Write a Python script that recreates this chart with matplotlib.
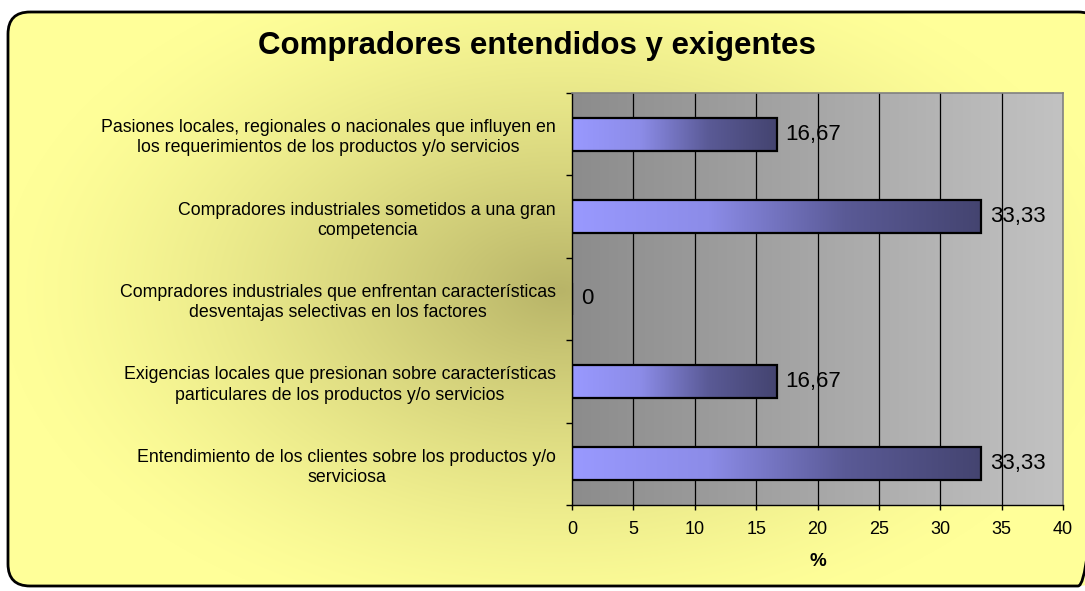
import numpy as np
import matplotlib
matplotlib.use("Agg")
import matplotlib.pyplot as plt
from matplotlib.colors import LinearSegmentedColormap
from matplotlib.patches import FancyBboxPatch
from matplotlib.ticker import FixedLocator

plt.rcParams["font.family"] = ["Liberation Sans", "DejaVu Sans"]

# --- data (top to bottom as shown) ---
categories = [
    "Pasiones locales, regionales o nacionales que influyen en\nlos requerimientos de los productos y/o servicios",
    "Compradores industriales sometidos a una gran\ncompetencia",
    "Compradores industriales que enfrentan características\ndesventajas selectivas en los factores",
    "Exigencias locales que presionan sobre características\nparticulares de los productos y/o servicios",
    "Entendimiento de los clientes sobre los productos y/o\nserviciosa",
]
values = [16.67, 33.33, 0, 16.67, 33.33]
x_ticks = [0, 5, 10, 15, 20, 25, 30, 35, 40]
title = "Compradores entendidos y exigentes"
x_label = "%"

W, H = 1085, 591
fig = plt.figure(figsize=(W / 100, H / 100), dpi=100)
fig.patch.set_facecolor("white")

# --- background: rounded yellow panel with a soft olive glow ---
bg = fig.add_axes([0, 0, 1, 1])
bg.set_xlim(0, W)
bg.set_ylim(H, 0)
bg.axis("off")
yy, xx = np.mgrid[0:H, 0:W]
r = np.sqrt(((xx - 560) / 560.0) ** 2 + ((yy - 290) / 350.0) ** 2)
f = np.clip(1 - r, 0, 1) ** 1.4
yellow = np.array([255, 255, 153]) / 255
olive = np.array([184, 180, 104]) / 255
img = yellow[None, None, :] * (1 - f[..., None]) + olive[None, None, :] * f[..., None]
panel = FancyBboxPatch((8, 12), 1092, 574, boxstyle="round,pad=0,rounding_size=22",
                       facecolor="none", edgecolor="black", linewidth=2.0, zorder=3)
bg.add_patch(panel)
im = bg.imshow(img, extent=[0, W, H, 0], aspect="auto", zorder=1)
im.set_clip_path(panel)

fig.text(537 / W, 1 - 46 / H, title, ha="center", va="center",
         fontsize=22.5, fontweight="bold")

# --- plot area ---
left, right, top, bottom = 572, 1063, 93, 505
ax = fig.add_axes([left / W, 1 - bottom / H, (right - left) / W, (bottom - top) / H])
ax.patch.set_alpha(0)

n = len(categories)
y = np.arange(n)

# grey horizontal gradient for the plot area
area_cmap = LinearSegmentedColormap.from_list("area", ["#8c8c8c", "#c2c2c2"])
ax.imshow(np.linspace(0, 1, 256)[None, :], cmap=area_cmap, aspect="auto",
          extent=[0, 1, 0, 1], transform=ax.transAxes, zorder=0)

for xv in x_ticks[1:-1]:
    ax.axvline(xv, color="black", linewidth=0.9, zorder=1)

bar_cmap = LinearSegmentedColormap.from_list("bar", ["#9999ff", "#8c8ce8", "#5a5a96", "#444470"])
bars = ax.barh(y, values, height=0.4, facecolor="none", edgecolor="black",
               linewidth=1.6, zorder=3)
for rect, v in zip(bars, values):
    if v > 0:
        g = ax.imshow(np.linspace(0, 1, 256)[None, :], cmap=bar_cmap, aspect="auto",
                      extent=[0, v, rect.get_y() + rect.get_height(), rect.get_y()],
                      zorder=2)
        g.set_clip_path(rect)
    label = "0" if v == 0 else f"{v:.2f}".replace(".", ",")
    ax.annotate(label, (v, rect.get_y() + rect.get_height() / 2),
                xytext=(6.5, 0), textcoords="offset points",
                ha="left", va="center", fontsize=16, zorder=4)

ax.set_xlim(0, 40)
ax.set_ylim(n - 0.5, -0.5)

ax.set_yticks(y)
ax.set_yticklabels(categories, fontsize=12.8, linespacing=1.25)
for t in ax.get_yticklabels():
    t.set_multialignment("center")
ax.yaxis.set_minor_locator(FixedLocator(np.arange(-0.5, n, 1.0)))
ax.tick_params(axis="y", which="major", length=0, pad=11.5)
ax.tick_params(axis="y", which="minor", length=4.3, width=1, direction="out")

ax.xaxis.set_major_locator(FixedLocator(x_ticks))
ax.set_xticklabels([str(t) for t in x_ticks], fontsize=13)
ax.tick_params(axis="x", length=3.6, width=1, direction="out", pad=8)
ax.set_xlabel(x_label, fontsize=13.5, fontweight="bold", labelpad=11)

for side in ("left", "bottom"):
    ax.spines[side].set_color("black")
    ax.spines[side].set_linewidth(1)
for side in ("top", "right"):
    ax.spines[side].set_color("#808080")
    ax.spines[side].set_linewidth(1.2)

fig.savefig("out.png", dpi=100)
